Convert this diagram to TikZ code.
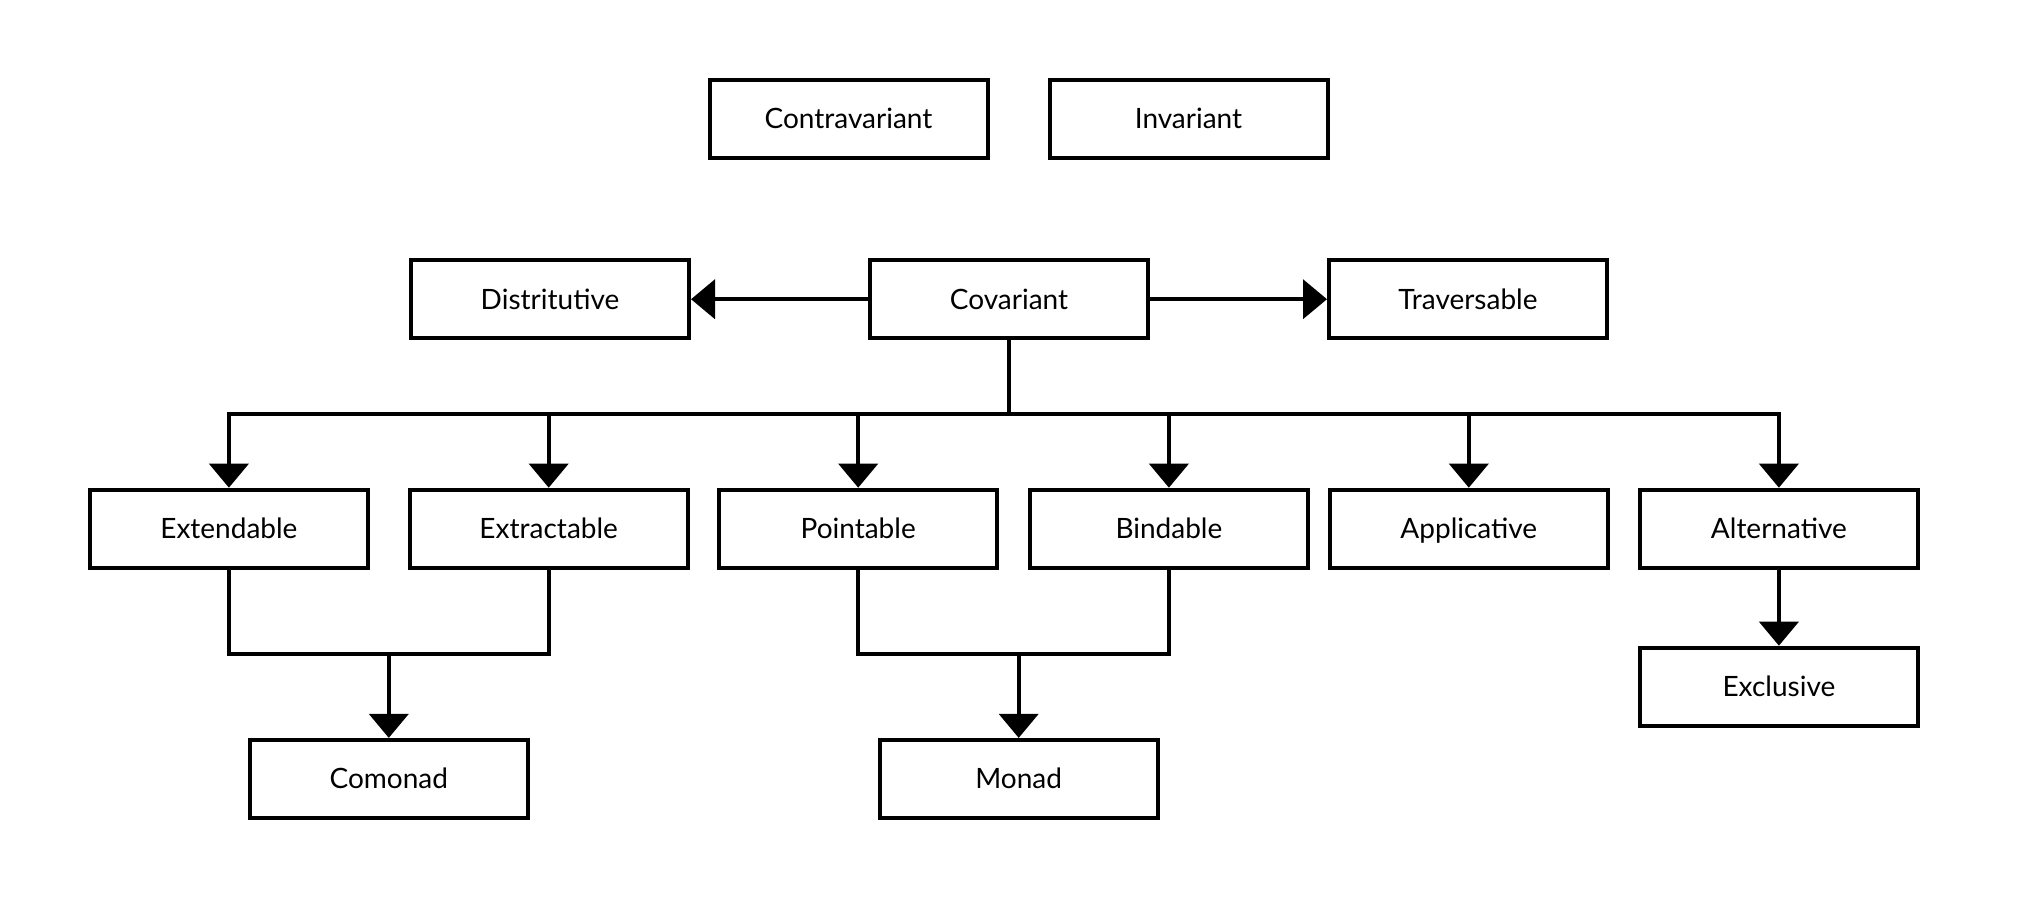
\documentclass[tikz,border=0pt]{standalone}
\usepackage{fontspec}
\setmainfont{Lato}
\usetikzlibrary{positioning,arrows.meta}

\tikzset{
  cls/.style={draw, line width=2pt, minimum width=139pt, minimum height=39pt,
    inner sep=0pt, text height=10pt, text depth=0pt,
    font=\fontsize{14}{16}\selectfont},
  link/.style={line width=2pt},
  arr/.style={link, -{Triangle[width=19.5pt, length=12pt]}}
}

\begin{document}
\begin{tikzpicture}[x=0.5pt, y=-0.5pt]
  \useasboundingbox (0,0) rectangle (2022,906);

  % Define nodes
  \node[cls] (contra) at (848.5,118.6) {Contravariant};
  \node[cls, right=29pt of contra] (inv) {Invariant};

  \node[cls] (cov) at (1009,299.2) {Covariant};
  \node[cls, left=88.5pt of cov] (dist) {Distritutive};
  \node[cls, right=88.5pt of cov] (trav) {Traversable};

  \node[cls] (extd) at (228.9,528.7) {Extendable};
  \node[cls] (extr) at (548.7,528.7) {Extractable};
  \node[cls] (pnt) at (858.2,528.7) {Pointable};
  \node[cls] (bnd) at (1168.9,528.7) {Bindable};
  \node[cls] (app) at (1468.8,528.7) {Applicative};
  \node[cls] (alt) at (1778.9,528.7) {Alternative};
  \node[cls, below=38pt of alt] (excl) {Exclusive};

  \node[cls] (comon) at (388.8,778.9) {Comonad};
  \node[cls] (mon) at (1018.7,778.9) {Monad};

  \coordinate (bus) at (1009,413.9);
  \coordinate (joinA) at (388.8,653.8);
  \coordinate (joinB) at (1018.7,653.8);

  % Connect the nodes
  \draw[arr] (cov.west) -- (dist.east);
  \draw[arr] (cov.east) -- (trav.west);
  \draw[link] (cov.south) -- (bus);
  \foreach \n in {extd, extr, pnt, bnd, app, alt}
    \draw[arr] (bus) -| (\n.north);
  \draw[arr] (alt.south) -- (excl.north);

  \draw[link] (extd.south) |- (joinA) -| (extr.south);
  \draw[arr] (joinA) -- (comon.north);
  \draw[link] (pnt.south) |- (joinB) -| (bnd.south);
  \draw[arr] (joinB) -- (mon.north);
\end{tikzpicture}
\end{document}
